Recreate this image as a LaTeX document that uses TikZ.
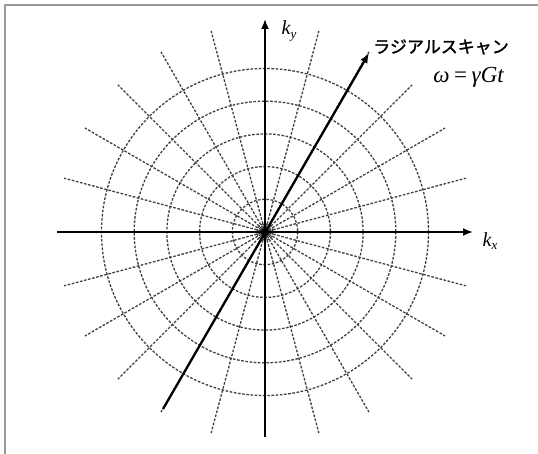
\documentclass[tikz,border=0pt]{standalone}
\usepackage{fontspec}
\newfontfamily\jpfont[FakeBold=1.5]{Noto Sans CJK JP}
\newfontfamily\tmsfont{Liberation Serif}
\usetikzlibrary{arrows.meta}
\begin{document}
\begin{tikzpicture}[x=1pt,y=-1pt,
  frame/.style={draw=black!40, line width=1.2pt},
  gridline/.style={draw=black!75, line width=1.3pt, dash pattern=on 2.6pt off 1.6pt},
  axis/.style={draw=black, line width=1.8pt, -{Latex[length=10pt,width=8pt]}},
  scan/.style={draw=black, line width=2.3pt, -{Latex[length=10pt,width=8pt]}},
  lbl/.style={inner sep=0pt, font=\fontsize{20}{22}\selectfont\tmsfont\itshape}
]
\useasboundingbox (0,0) rectangle (538,454);
\fill[white] (0,0) rectangle (538,454);
% partial frame
\coordinate (F1) at (538,5);
\coordinate (F2) at (5,5);
\coordinate (F3) at (5,454);
\draw[frame] (F1) -- (F2) -- (F3);
% centre
\coordinate (O) at (265,232);
% dashed circles
\draw[gridline] (O) circle[radius=8];
\foreach \k in {1,...,5}{
  \draw[gridline] (O) circle[radius=32.7*\k];
}
% radial dashed lines
\foreach \a in {15,30,45,60,75,105,120,135,150,165,195,210,225,240,255,285,300,315,330,345}{
  \draw[gridline] (O) -- ++(\a:208 and -208);
}
% axes
\coordinate (XL) at (57,232);
\coordinate (XR) at (473,232);
\coordinate (YB) at (265,437);
\coordinate (YT) at (265,19);
\draw[axis] (XL) -- (XR);
\draw[axis] (YB) -- (YT);
% radial scan
\coordinate (SB) at (163,409);
\coordinate (ST) at (369,53);
\draw[scan] (SB) -- (ST);
\fill[black] (O) circle[radius=4.4];
% labels
\node[lbl] (ky) at (289,31) {k\raisebox{-0.35ex}{\fontsize{13}{13}\selectfont y}};
\node[lbl] (kx) at (490,241) {k\raisebox{-0.35ex}{\fontsize{13}{13}\selectfont x}};
\node[inner sep=0pt, anchor=east, font=\fontsize{17}{19}\selectfont\jpfont] (radial) at (509,47) {ラジアルスキャン};
\node[lbl, anchor=east, font=\fontsize{23}{25}\selectfont\tmsfont\itshape] (omega) at (504,77) {ω\hspace{0.2em}{\upshape=}\hspace{0.2em}γGt};
\end{tikzpicture}
\end{document}
